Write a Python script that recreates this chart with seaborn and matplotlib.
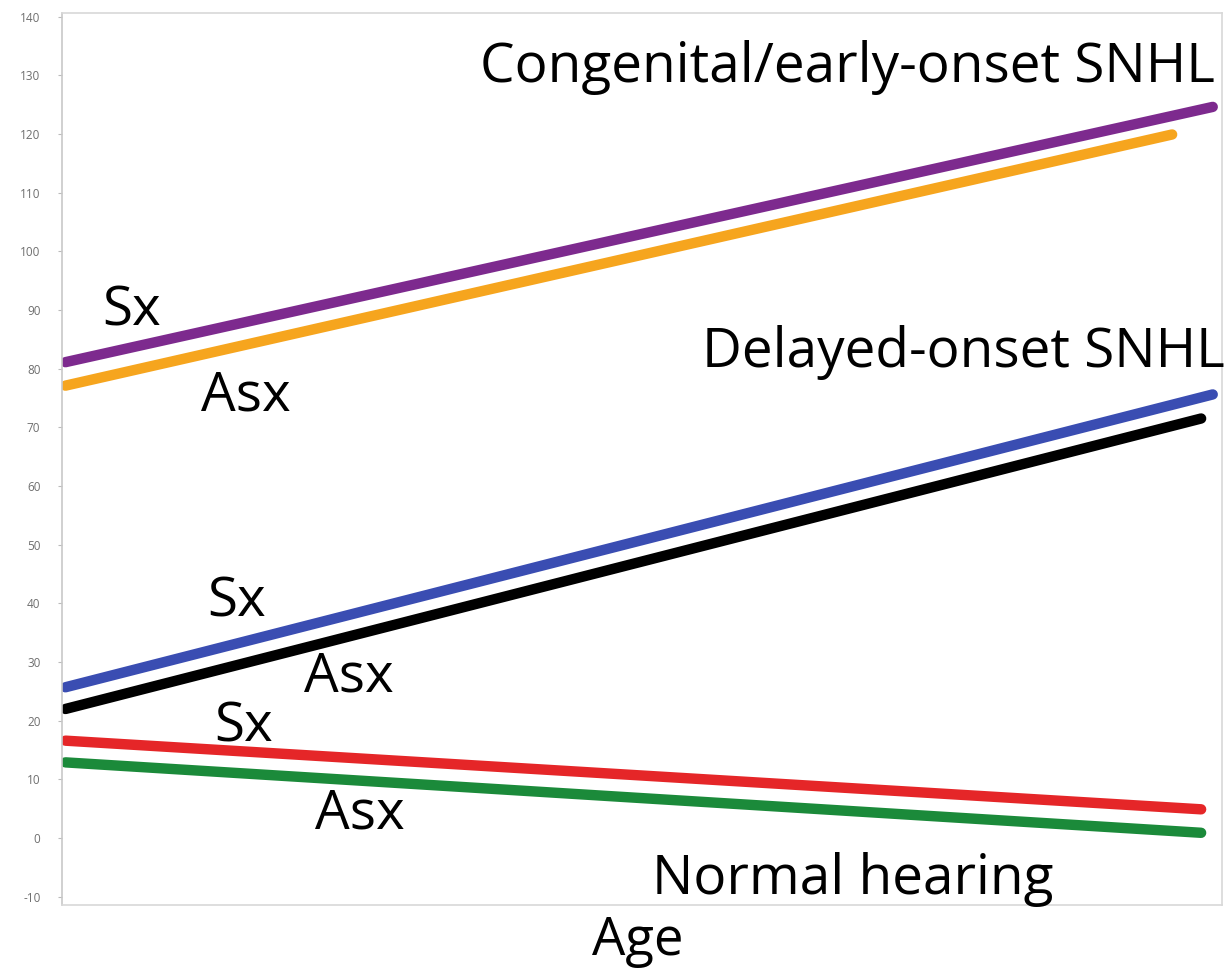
import matplotlib
matplotlib.use("Agg")
import matplotlib.pyplot as plt
import seaborn as sns
import pandas as pd

# ---- data ----
series = ["Cong Sx", "Cong Asx", "Delayed Sx", "Delayed Asx", "Normal Sx", "Normal Asx"]
x_start = [0.3, 0.3, 0.3, 0.3, 0.3, 0.3]
x_end = [99.2, 95.7, 99.2, 98.2, 98.2, 98.2]
y_start = [81.1, 77.1, 25.7, 22.0, 16.6, 12.9]
y_end = [124.6, 119.9, 75.6, 71.5, 4.9, 0.9]
colors = ["#7D2A8E", "#F6A51E", "#3A4DB2", "#000000", "#E52628", "#1B8A3A"]
yticks = [-10, 0, 10, 20, 30, 40, 50, 60, 70, 80, 90, 100, 110, 120, 130, 140]

label_texts = ["Congenital/early-onset SNHL", "Delayed-onset SNHL", "Sx", "Asx",
               "Sx", "Asx", "Sx", "Asx", "Normal hearing"]
label_x = [36.0, 55.2, 3.5, 12.0, 12.5, 20.9, 13.1, 21.8, 50.9]
label_y = [128.9, 80.2, 87.4, 72.9, 37.8, 25.0, 16.5, 1.6, -9.6]

rows = []
for s, xs, xe, ys, ye in zip(series, x_start, x_end, y_start, y_end):
    rows.append({"series": s, "age": xs, "level": ys})
    rows.append({"series": s, "age": xe, "level": ye})
df = pd.DataFrame(rows)

sns.set_theme(style="white")
plt.rcParams["font.family"] = ["Open Sans", "DejaVu Sans"]

fig = plt.figure(figsize=(12.3, 9.71), dpi=100)
ax = fig.add_axes([0.0504, 0.068, 0.9431, 0.9186])

sns.lineplot(data=df, x="age", y="level", hue="series", hue_order=series,
             palette=colors, linewidth=7.5, legend=False, ax=ax,
             solid_capstyle="round")

ax.set_xlim(0, 100)
ax.set_ylim(-11.4, 140.6)
ax.set_yticks(yticks)
ax.set_yticklabels([str(t) for t in yticks], fontsize=8.5, color="#6f6f6f")
ax.set_xticks([])
ax.tick_params(axis="y", length=3, width=0.8, color="#bbbbbb", pad=12.5, left=True)
for sp in ax.spines.values():
    sp.set_color("#d8d8d8")
    sp.set_linewidth(1.2)
ax.spines["left"].set_color("#c8c8c8")
ax.set_xlabel("")
ax.set_ylabel("")

for t, lx, ly in zip(label_texts, label_x, label_y):
    ax.text(lx, ly, t, color="black", fontsize=39.5, va="baseline", ha="left")
fig.text(0.4815, 0.016, "Age", color="black", fontsize=38, ha="left", va="baseline")

fig.savefig("out.png", dpi=100)
